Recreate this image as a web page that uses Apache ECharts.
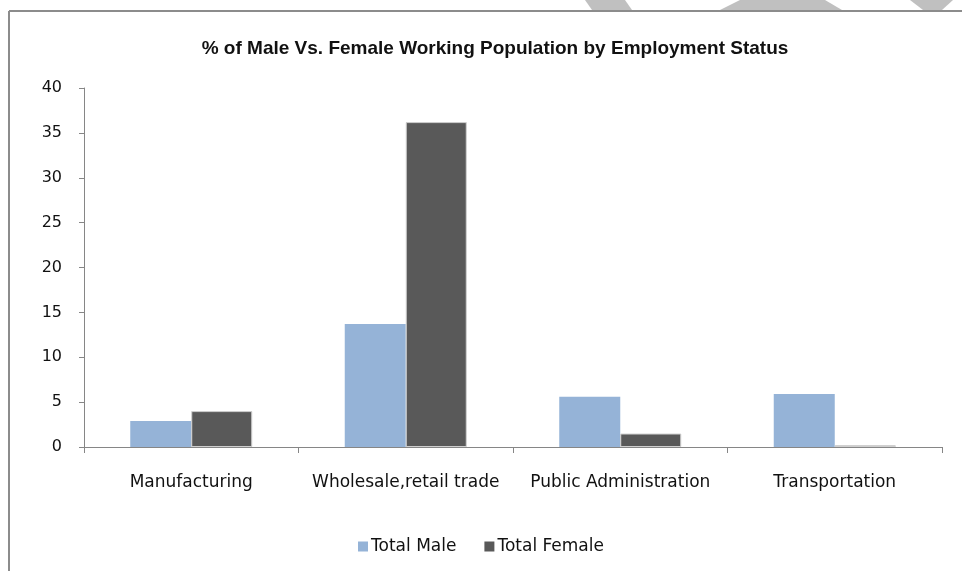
<!DOCTYPE html>
<html>
<head>
<meta charset="utf-8">
<script src="https://cdn.jsdelivr.net/npm/echarts@6/dist/echarts.min.js"></script>
<style>
  html, body { margin: 0; padding: 0; background: #fff; }
  #chart { width: 962px; height: 571px; }
</style>
</head>
<body>
<div id="chart"></div>
<script>
const categories = ['Manufacturing', 'Wholesale,retail trade', 'Public Administration', 'Transportation']
const maleValues = [2.9, 13.7, 5.6, 5.9]
const femaleValues = [4.0, 36.2, 1.5, 0.2]
const seriesNames = ['Total Male', 'Total Female']

const chart = echarts.init(document.getElementById('chart'))

const axisGray = '#868686'
const labelFont = 'DejaVu Sans, Liberation Sans, Arial, sans-serif'

const option = {
  animation: false,
  backgroundColor: '#fff',
  title: {
    text: '% of Male Vs. Female Working Population by Employment Status',
    left: 490,
    textAlign: 'center',
    top: 34,
    textStyle: {
      fontFamily: 'Liberation Sans, Arial, sans-serif',
      fontSize: 19,
      fontWeight: 'bold',
      color: '#111'
    }
  },
  grid: {
    left: 84,
    right: 20,
    top: 88,
    bottom: 124
  },
  legend: {
    data: seriesNames,
    left: 'center',
    top: 533,
    itemWidth: 10,
    itemHeight: 10,
    itemGap: 28,
    icon: 'rect',
    itemStyle: { borderWidth: 0 },
    textStyle: {
      fontFamily: labelFont,
      fontSize: 17,
      color: '#111',
      padding: [0, 0, 0, -2]
    }
  },
  xAxis: {
    type: 'category',
    data: categories,
    axisLine: { lineStyle: { color: axisGray } },
    axisTick: { show: true, length: 6, lineStyle: { color: axisGray } },
    axisLabel: {
      margin: 27,
      fontFamily: labelFont,
      fontSize: 17,
      color: '#111',
      interval: 0
    }
  },
  yAxis: {
    type: 'value',
    min: 0,
    max: 40,
    interval: 5,
    splitLine: { show: false },
    axisLine: { show: true, lineStyle: { color: axisGray } },
    axisTick: { show: true, length: 5, lineStyle: { color: axisGray } },
    axisLabel: {
      margin: 22,
      fontFamily: labelFont,
      fontSize: 16,
      color: '#111'
    }
  },
  series: [
    {
      name: seriesNames[0],
      type: 'bar',
      barWidth: 61,
      barGap: '0%',
      itemStyle: { color: '#95B3D7' },
      data: maleValues
    },
    {
      name: seriesNames[1],
      type: 'bar',
      barWidth: 61,
      barGap: '0%',
      itemStyle: { color: '#595959', borderColor: '#cfcfcf', borderWidth: 1 },
      data: femaleValues
    }
  ],
  graphic: [
    // faint watermark shapes poking in above the frame
    { type: 'polygon', shape: { points: [[585, 0], [625, 0], [632, 10], [592, 10]] }, style: { fill: '#c0c0c0' } },
    { type: 'polygon', shape: { points: [[740, 0], [825, 0], [842, 10], [720, 10]] }, style: { fill: '#c0c0c0' } },
    { type: 'polygon', shape: { points: [[910, 0], [953, 0], [942, 10], [923, 10]] }, style: { fill: '#c0c0c0' } },
    // chart frame (left and top edges visible)
    { type: 'line', shape: { x1: 9, y1: 11, x2: 962, y2: 11 }, style: { stroke: '#8c8c8c', lineWidth: 2 } },
    { type: 'line', shape: { x1: 9, y1: 11, x2: 9, y2: 571 }, style: { stroke: '#8c8c8c', lineWidth: 2 } }
  ]
}

chart.setOption(option)
</script>
</body>
</html>
